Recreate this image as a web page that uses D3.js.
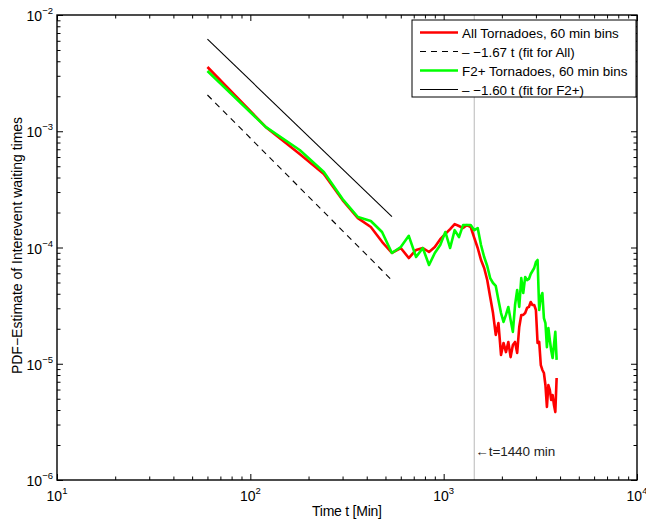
<!DOCTYPE html>
<html><head><meta charset="utf-8">
<script src="https://cdn.jsdelivr.net/npm/d3@7"></script>
<style>
html,body{margin:0;padding:0;background:#fff;}
svg{display:block;font-family:"Liberation Sans",Arial,Helvetica,sans-serif;}
</style></head>
<body>
<svg id="chart" width="646" height="522"></svg>
<script>
// ---- data ----
const tBins = [60,120,180,240,300,360,420,480,540,600,660,720,780,840,900,960,1020,1080,1140,1200,
  1260,1320,1380,1440,1500,1560,1620,1680,1740,1800,1860,1920,1980,2040,2100,2160,2220,2280,2340,2400,
  2460,2520,2580,2640,2700,2760,2820,2880,2940,3000,3060,3120,3180,3240,3300,3360,3420,3480,3540,3600,
  3660,3720,3780,3840];
const pdfAll = [3.57e-3,1.09e-3,6.37e-4,4.29e-4,2.56e-4,1.79e-4,1.50e-4,1.12e-4,8.97e-5,9.90e-5,
  8.12e-5,9.52e-5,9.90e-5,9.15e-5,1.01e-4,1.18e-4,1.31e-4,1.44e-4,1.59e-4,1.53e-4,
  1.47e-4,1.56e-4,1.50e-4,1.21e-4,9.90e-5,7.81e-5,6.66e-5,5.25e-5,3.75e-5,2.73e-5,
  1.77e-5,2.24e-5,1.19e-5,1.51e-5,1.26e-5,1.54e-5,1.14e-5,1.45e-5,1.54e-5,1.24e-5,
  2.07e-5,2.63e-5,2.63e-5,2.73e-5,3.02e-5,3.08e-5,3.40e-5,3.20e-5,3.20e-5,2.90e-5,
  1.51e-5,1.54e-5,9.75e-6,8.84e-6,8.32e-6,6.56e-6,4.25e-6,6.56e-6,5.95e-6,4.88e-6,
  5.38e-6,4.42e-6,3.84e-6,7.54e-6];
const pdfF2 = [3.30e-3,1.09e-3,6.90e-4,4.46e-4,2.61e-4,1.83e-4,1.69e-4,1.36e-4,8.97e-5,1.01e-4,
  1.26e-4,8.28e-5,9.90e-5,7.07e-5,8.97e-5,1.05e-4,1.36e-4,9.90e-5,1.41e-4,1.23e-4,
  1.56e-4,1.56e-4,1.56e-4,1.41e-4,1.47e-4,1.05e-4,8.28e-5,6.93e-5,5.46e-5,4.95e-5,
  4.67e-5,3.53e-5,2.73e-5,2.29e-5,2.63e-5,3.08e-5,2.38e-5,1.88e-5,3.20e-5,4.31e-5,
  3.08e-5,5.46e-5,4.06e-5,5.57e-5,5.25e-5,5.36e-5,5.92e-5,6.28e-5,6.66e-5,7.50e-5,
  7.81e-5,2.90e-5,3.75e-5,4.06e-5,2.47e-5,2.24e-5,1.39e-5,2.03e-5,1.60e-5,1.30e-5,
  1.12e-5,1.45e-5,1.88e-5,1.08e-5];
const fitAllT = [60, 540];
const fitAllP = [2.05e-3, 5.22e-5];
const fitF2T = [60, 540];
const fitF2P = [6.2e-3, 1.845e-4];
const markerT = 1440;
const xMajor = [10, 100, 1000, 10000];
const xMajorExp = ["1", "2", "3", "4"];
const yMajor = [1e-6, 1e-5, 1e-4, 1e-3, 1e-2];
const yMajorExp = ["\u22126", "\u22125", "\u22124", "\u22123", "\u22122"];
const legendLabels = ["All Tornadoes, 60 min bins", "\u2013 \u22121.67 t (fit for All)",
  "F2+ Tornadoes, 60 min bins", "\u2013 \u22121.60 t (fit for F2+)"];
const xTitle = "Time t [Min]";
const yTitle = "PDF\u2212Estimate of Interevent waiting times";
const markerLabel = "\u2190t=1440 min";

// ---- layout ----
const L = 57, R = 637, T = 15, B = 480;
const svg = d3.select("#chart");
const x = d3.scaleLog().domain([10, 10000]).range([L, R]);
const y = d3.scaleLog().domain([1e-6, 1e-2]).range([B, T]);

// marker line
svg.append("line").attr("x1", x(markerT)).attr("x2", x(markerT))
  .attr("y1", T).attr("y2", B).attr("stroke", "#c4c4c4").attr("stroke-width", 1.2);
svg.append("text").attr("x", x(markerT) + 1).attr("y", 456)
  .attr("font-size", 13.5).attr("fill", "#222").attr("textLength", 80).text(markerLabel);

// fit lines
const line = d3.line().x(d => x(d[0])).y(d => y(d[1]));
svg.append("path").datum(fitAllT.map((t, i) => [t, fitAllP[i]])).attr("d", line)
  .attr("fill", "none").attr("stroke", "#000").attr("stroke-width", 1.1).attr("stroke-dasharray", "6,5");
svg.append("path").datum(fitF2T.map((t, i) => [t, fitF2P[i]])).attr("d", line)
  .attr("fill", "none").attr("stroke", "#000").attr("stroke-width", 1.1);

// data lines
svg.append("path").datum(tBins.map((t, i) => [t, pdfAll[i]])).attr("d", line)
  .attr("fill", "none").attr("stroke", "#ff0000").attr("stroke-width", 2.6).attr("stroke-linejoin", "round");
svg.append("path").datum(tBins.map((t, i) => [t, pdfF2[i]])).attr("d", line)
  .attr("fill", "none").attr("stroke", "#00ff00").attr("stroke-width", 2.6).attr("stroke-linejoin", "round");

// axes (inward ticks, mirrored)
const xMinor = x.ticks().filter(v => !xMajor.includes(v));
const yMinor = y.ticks().filter(v => !yMajor.some(m => Math.abs(m - v) / m < 1e-6));
function axisGroup(axisFn, scale, vals, size, transform) {
  const g = svg.append("g").attr("transform", transform)
    .call(axisFn(scale).tickValues(vals).tickSize(size).tickFormat(""));
  g.select(".domain").remove();
  g.selectAll("line").attr("stroke", "#000").attr("stroke-width", 1);
}
axisGroup(d3.axisBottom, x, xMajor, -6, `translate(0,${B})`);
axisGroup(d3.axisBottom, x, xMinor, -3.5, `translate(0,${B})`);
axisGroup(d3.axisTop, x, xMajor, -6, `translate(0,${T})`);
axisGroup(d3.axisTop, x, xMinor, -3.5, `translate(0,${T})`);
axisGroup(d3.axisLeft, y, yMajor, -6, `translate(${L},0)`);
axisGroup(d3.axisLeft, y, yMinor, -3.5, `translate(${L},0)`);
axisGroup(d3.axisRight, y, yMajor, -6, `translate(${R},0)`);
axisGroup(d3.axisRight, y, yMinor, -3.5, `translate(${R},0)`);

svg.append("rect").attr("x", L).attr("y", T).attr("width", R - L).attr("height", B - T)
  .attr("fill", "none").attr("stroke", "#000").attr("stroke-width", 1.4);

// tick labels
xMajor.forEach((v, i) => {
  const t = svg.append("text").attr("x", x(v)).attr("y", 501).attr("text-anchor", "middle")
    .attr("font-size", 14).attr("fill", "#000");
  t.append("tspan").text("10");
  t.append("tspan").attr("dy", -7).attr("font-size", 9.5).text(xMajorExp[i]);
});
yMajor.forEach((v, i) => {
  const t = svg.append("text").attr("x", L - 4).attr("y", y(v) + 6).attr("text-anchor", "end")
    .attr("font-size", 14).attr("fill", "#000");
  t.append("tspan").text("10");
  t.append("tspan").attr("dy", -7).attr("font-size", 9.5).text(yMajorExp[i]);
});

// titles
svg.append("text").attr("x", (L + R) / 2).attr("y", 516).attr("text-anchor", "middle")
  .attr("font-size", 14).attr("textLength", 70).text(xTitle);
svg.append("text").attr("transform", `translate(22,${(T + B) / 2 - 2}) rotate(-90)`)
  .attr("text-anchor", "middle").attr("font-size", 14).text(yTitle);

// legend
const lg = svg.append("g");
lg.append("rect").attr("x", 412).attr("y", 20).attr("width", 224).attr("height", 77)
  .attr("fill", "#fff").attr("stroke", "#000").attr("stroke-width", 1);
const legStyles = [
  {c: "#ff0000", w: 2.6, d: null},
  {c: "#000", w: 1.1, d: "6,5"},
  {c: "#00ff00", w: 2.6, d: null},
  {c: "#000", w: 1.1, d: null}
];
legendLabels.forEach((lab, i) => {
  const yy = 32.5 + i * 19;
  const ln = lg.append("line").attr("x1", 420).attr("x2", 458).attr("y1", yy).attr("y2", yy)
    .attr("stroke", legStyles[i].c).attr("stroke-width", legStyles[i].w);
  if (legStyles[i].d) ln.attr("stroke-dasharray", legStyles[i].d);
  lg.append("text").attr("x", 462).attr("y", yy + 5).attr("font-size", 13.4).text(lab);
});
</script>
</body></html>
